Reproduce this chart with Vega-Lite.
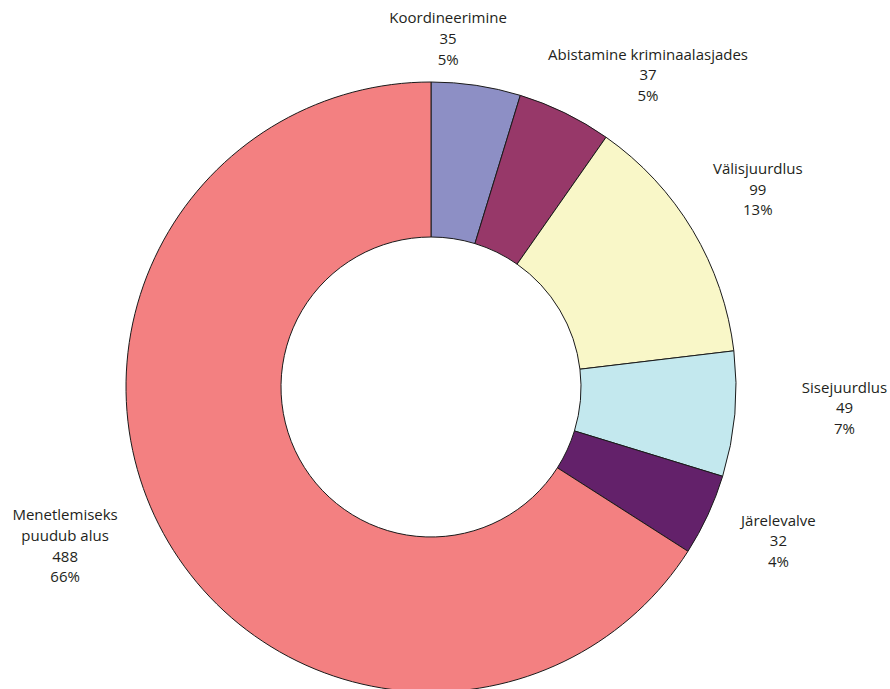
{
  "$schema": "https://vega.github.io/schema/vega-lite/v6.json",
  "autosize": {"type": "none"},
  "padding": {"left": 0, "top": 87, "right": 28, "bottom": 2},
  "width": 862,
  "height": 600,
  "background": "white",
  "view": {"stroke": null},
  "data": {
    "values": [
      {"rank": 1, "name": "Koordineerimine", "value": 35, "label": "Koordineerimine\n35\n5%"},
      {"rank": 2, "name": "Abistamine kriminaalasjades", "value": 37, "label": "Abistamine kriminaalasjades\n37\n5%"},
      {"rank": 3, "name": "Välisjuurdlus", "value": 99, "label": "Välisjuurdlus\n99\n13%"},
      {"rank": 4, "name": "Sisejuurdlus", "value": 49, "label": "Sisejuurdlus\n49\n7%"},
      {"rank": 5, "name": "Järelevalve", "value": 32, "label": "Järelevalve\n32\n4%"},
      {"rank": 6, "name": "Menetlemiseks puudub alus", "value": 488, "label": "Menetlemiseks\npuudub alus\n488\n66%"}
    ]
  },
  "layer": [
    {
      "mark": {"type": "arc", "outerRadius": 305, "innerRadius": 150, "stroke": "#1a1a1a", "strokeWidth": 1},
      "encoding": {
        "theta": {"field": "value", "type": "quantitative", "stack": true},
        "order": {"field": "rank", "type": "quantitative"},
        "color": {
          "field": "name",
          "type": "nominal",
          "legend": null,
          "scale": {
            "domain": ["Koordineerimine", "Abistamine kriminaalasjades", "Välisjuurdlus", "Sisejuurdlus", "Järelevalve", "Menetlemiseks puudub alus"],
            "range": ["#8D8FC5", "#973869", "#F9F7C8", "#C3E8EE", "#63216A", "#F38081"]
          }
        }
      }
    },
    {
      "transform": [
        {"stack": "value", "groupby": [], "sort": [{"field": "rank", "order": "ascending"}], "as": ["s0", "s1"]},
        {"calculate": "(datum.s0 + datum.s1) / 2", "as": "mid"}
      ],
      "encoding": {
        "theta": {"field": "mid", "type": "quantitative", "stack": null},
        "text": {"field": "label", "type": "nominal"}
      },
      "layer": [
        {
          "transform": [{"filter": "datum.rank === 1"}],
          "mark": {"type": "text", "radius": 349, "thetaOffset": -0.0995, "dy": -20.5, "font": "Open Sans", "fontSize": 15, "lineHeight": 20.8, "lineBreak": "\n", "align": "center", "baseline": "middle", "color": "#231F20"}
        },
        {
          "transform": [{"filter": "datum.rank === 2"}],
          "mark": {"type": "text", "radius": 380, "thetaOffset": 0.1536, "dy": -20.5, "font": "Open Sans", "fontSize": 15, "lineHeight": 20.8, "lineBreak": "\n", "align": "center", "baseline": "middle", "color": "#231F20"}
        },
        {
          "transform": [{"filter": "datum.rank === 3"}],
          "mark": {"type": "text", "radius": 382, "thetaOffset": -0.005, "dy": -20.5, "font": "Open Sans", "fontSize": 15, "lineHeight": 20.8, "lineBreak": "\n", "align": "center", "baseline": "middle", "color": "#231F20"}
        },
        {
          "transform": [{"filter": "datum.rank === 4"}],
          "mark": {"type": "text", "radius": 414, "thetaOffset": -0.0384, "dy": -20.5, "font": "Open Sans", "fontSize": 15, "lineHeight": 20.8, "lineBreak": "\n", "align": "center", "baseline": "middle", "color": "#231F20"}
        },
        {
          "transform": [{"filter": "datum.rank === 5"}],
          "mark": {"type": "text", "radius": 380, "thetaOffset": -0.0157, "dy": -20.5, "font": "Open Sans", "fontSize": 15, "lineHeight": 20.8, "lineBreak": "\n", "align": "center", "baseline": "middle", "color": "#231F20"}
        },
        {
          "transform": [{"filter": "datum.rank === 6"}],
          "mark": {"type": "text", "radius": 399, "thetaOffset": 0.0908, "dy": -31, "font": "Open Sans", "fontSize": 15, "lineHeight": 20.8, "lineBreak": "\n", "align": "center", "baseline": "middle", "color": "#231F20"}
        }
      ]
    }
  ]
}
